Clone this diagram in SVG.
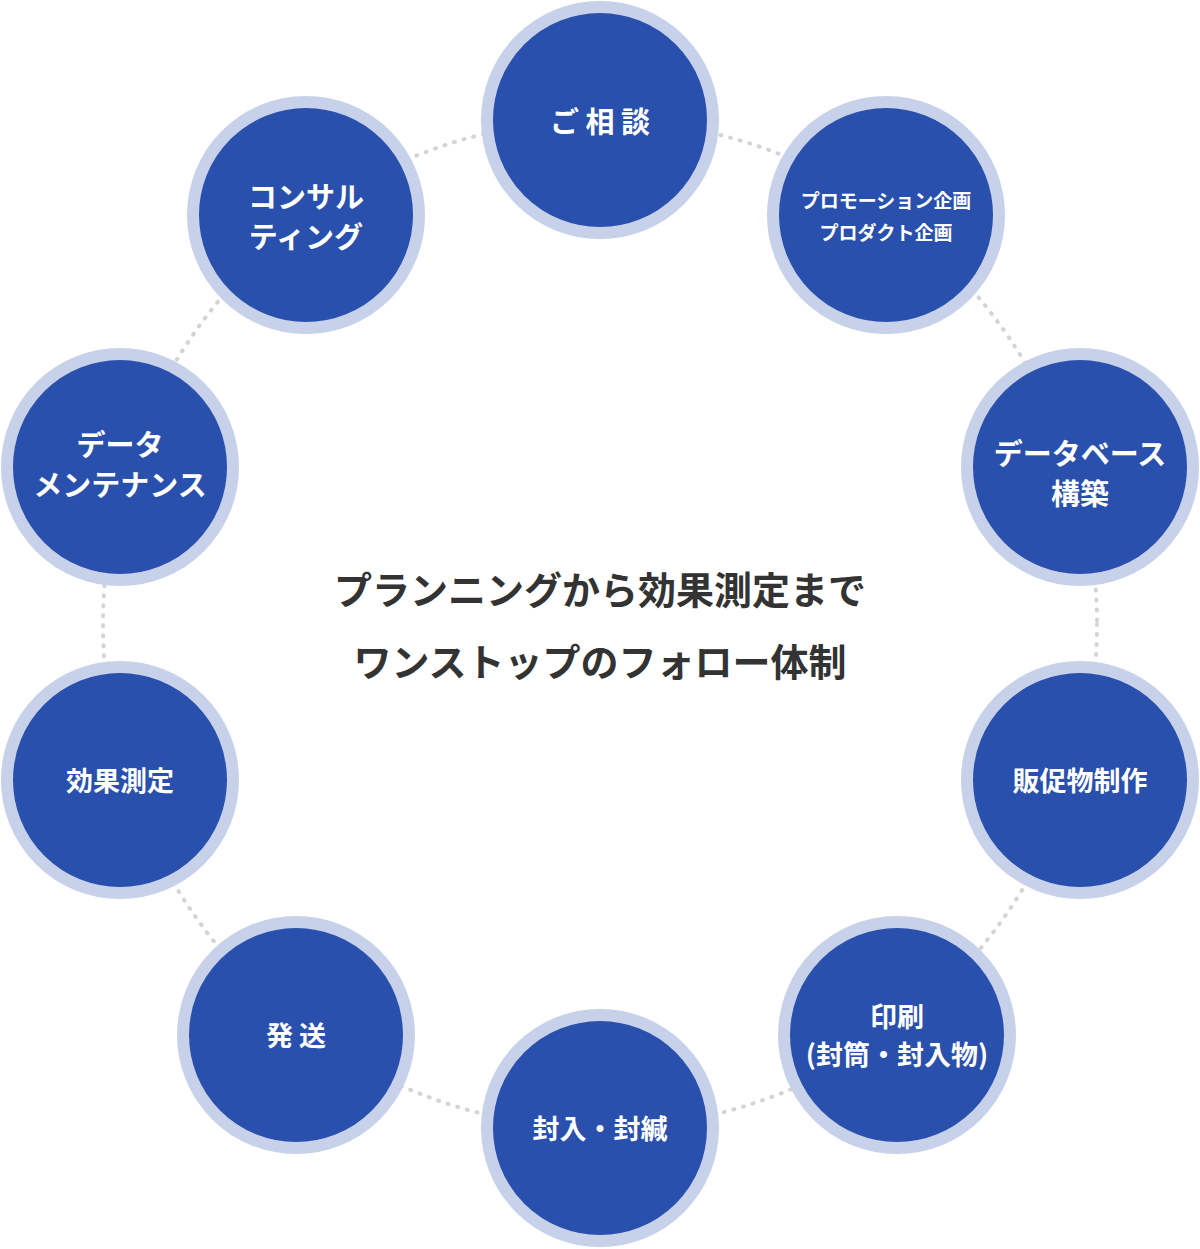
<svg xmlns="http://www.w3.org/2000/svg" width="1200" height="1249" viewBox="0 0 1200 1249">
<style>
.ring{fill:#2a50ad;stroke:#c7d1ea;stroke-width:12}
.t{fill:#fff;font-family:"Noto Sans CJK JP",sans-serif;font-weight:700;text-anchor:middle}
.c{fill:#333;font-family:"Noto Sans CJK JP",sans-serif;font-weight:700;text-anchor:middle;font-size:38px}
</style>
<rect width="1200" height="1249" fill="#fff"/>
<g id="connectors">
<ellipse cx="600" cy="624" rx="497" ry="504" fill="none" stroke="#d4d4d4" stroke-width="4" stroke-dasharray="1 9" stroke-linecap="round"/>
</g>
<g id="n1"><circle class="ring" cx="600" cy="120" r="113"/><text class="t" x="600" y="133" font-size="29">ご 相 談</text></g>
<g id="n2"><circle class="ring" cx="886" cy="215" r="113"/><text class="t" x="886" y="208" font-size="19">プロモーション企画</text><text class="t" x="886" y="240" font-size="19">プロダクト企画</text></g>
<g id="n3"><circle class="ring" cx="1080" cy="467" r="113"/><text class="t" x="1080" y="465" font-size="29">データベース</text><text class="t" x="1080" y="505" font-size="29">構築</text></g>
<g id="n4"><circle class="ring" cx="1080" cy="780" r="113"/><text class="t" x="1080" y="791" font-size="27">販促物制作</text></g>
<g id="n5"><circle class="ring" cx="897" cy="1035" r="113"/><text class="t" x="897" y="1027" font-size="27">印刷</text><text class="t" x="897" y="1065" font-size="27">(封筒・封入物)</text></g>
<g id="n6"><circle class="ring" cx="600" cy="1128" r="113"/><text class="t" x="600" y="1139" font-size="27">封入・封緘</text></g>
<g id="n7"><circle class="ring" cx="296" cy="1035" r="113"/><text class="t" x="296" y="1046" font-size="27">発 送</text></g>
<g id="n8"><circle class="ring" cx="120" cy="780" r="113"/><text class="t" x="120" y="791" font-size="27">効果測定</text></g>
<g id="n9"><circle class="ring" cx="120" cy="467" r="113"/><text class="t" x="120" y="456" font-size="29">データ</text><text class="t" x="120" y="496" font-size="29">メンテナンス</text></g>
<g id="n10"><circle class="ring" cx="306" cy="215" r="113"/><text class="t" x="306" y="208" font-size="29">コンサル</text><text class="t" x="306" y="248" font-size="29">ティング</text></g>
<g id="center"><text class="c" x="600" y="604">プランニングから効果測定まで</text><text class="c" x="600" y="676">ワンストップのフォロー体制</text></g>
</svg>
